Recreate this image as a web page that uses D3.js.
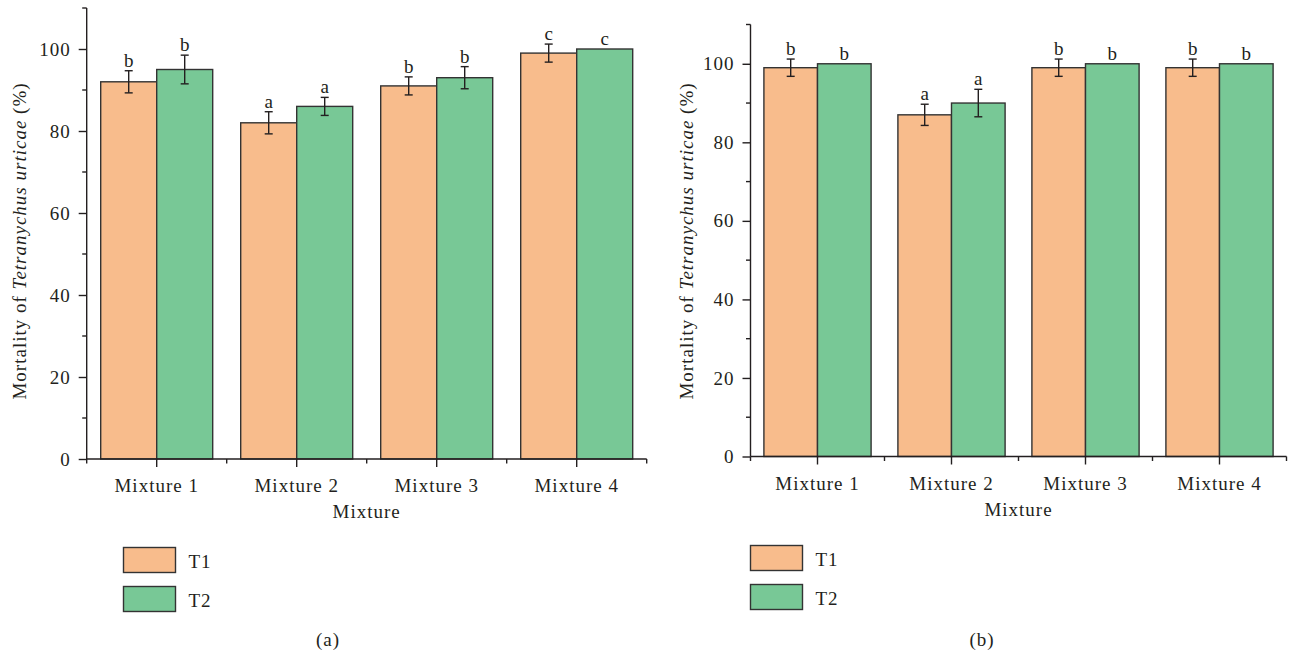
<!doctype html>
<html lang="en">
<head>
<meta charset="UTF-8">
<title>Mortality of Tetranychus urticae</title>
<style>
  body { margin: 0; background: #fff; }
  .bar { stroke: #333; stroke-width: 1.4; }
  .axis path, .axis line { stroke: #231f20; stroke-width: 1.4; }
</style>
</head>
<body>
<svg id="chart" width="1293" height="656"></svg>
<script src="https://d3js.org/d3.v7.min.js"></script>
<script>
// categories and series
var categories = ["Mixture 1", "Mixture 2", "Mixture 3", "Mixture 4"];
var seriesNames = ["T1", "T2"];
var colors = ["#f8bc8c", "#78c896"];

// panel (a)
var aT1 = [92, 82, 91, 99];
var aT2 = [95, 86, 93, 100];
var aT1Err = [2.7, 2.7, 2.2, 2.2];
var aT2Err = [3.5, 2.2, 2.7, 0];
var aT1Letters = ["b", "a", "b", "c"];
var aT2Letters = ["b", "a", "b", "c"];

// panel (b)
var bT1 = [99, 87, 99, 99];
var bT2 = [100, 90, 100, 100];
var bT1Err = [2.2, 2.7, 2.2, 2.2];
var bT2Err = [0, 3.5, 0, 0];
var bT1Letters = ["b", "a", "b", "b"];
var bT2Letters = ["b", "a", "b", "b"];

var yMajorTicks = [0, 20, 40, 60, 80, 100];
var yMinorTicks = [10, 30, 50, 70, 90, 110];

var FONT = "'Liberation Serif', 'Times New Roman', 'DejaVu Serif', serif";
var FS = "19px";

var svg = d3.select("#chart");

function styleText(sel) {
  sel.attr("font-family", FONT).style("font-family", FONT)
    .style("font-size", FS).style("letter-spacing", "1px").attr("fill", "#231f20");
  return sel;
}

function drawPanel(p) {
  var g = svg.append("g");

  var x = d3.scaleBand().domain(categories).range([p.left, p.right])
    .paddingInner(0.2).paddingOuter(0.1);
  var xs = d3.scaleBand().domain(seriesNames).range([0, x.bandwidth()]);
  var y = d3.scaleLinear().domain([0, 110]).range([p.bottom, p.top]);

  var rows = [];
  categories.forEach(function(c, i) {
    rows.push({cat: c, s: 0, v: p.t1[i], e: p.t1e[i], l: p.t1l[i]});
    rows.push({cat: c, s: 1, v: p.t2[i], e: p.t2e[i], l: p.t2l[i]});
  });

  // bars
  g.selectAll("rect.bar").data(rows).enter().append("rect")
    .attr("class", "bar")
    .attr("x", function(d) { return x(d.cat) + xs(seriesNames[d.s]); })
    .attr("y", function(d) { return y(d.v); })
    .attr("width", xs.bandwidth())
    .attr("height", function(d) { return y(0) - y(d.v); })
    .attr("fill", function(d) { return colors[d.s]; });

  // error bars
  var cx = function(d) { return x(d.cat) + xs(seriesNames[d.s]) + xs.bandwidth() / 2; };
  var eb = g.selectAll("g.err").data(rows.filter(function(d) { return d.e > 0; }))
    .enter().append("g").attr("stroke", "#231f20").attr("stroke-width", 1.4);
  eb.append("line")
    .attr("x1", cx).attr("x2", cx)
    .attr("y1", function(d) { return y(d.v + d.e); })
    .attr("y2", function(d) { return y(d.v - d.e); });
  [1, -1].forEach(function(sgn) {
    eb.append("line")
      .attr("x1", function(d) { return cx(d) - 4; })
      .attr("x2", function(d) { return cx(d) + 4; })
      .attr("y1", function(d) { return y(d.v + sgn * d.e); })
      .attr("y2", function(d) { return y(d.v + sgn * d.e); });
  });

  // letters
  g.selectAll("text.letter").data(rows).enter().append("text")
    .attr("x", cx)
    .attr("y", function(d) { return y(d.v + d.e) - 4; })
    .attr("text-anchor", "middle")
    .call(styleText).style("letter-spacing", "0px")
    .text(function(d) { return d.l; });

  // y axis
  var yAxis = g.append("g").attr("class", "axis")
    .attr("transform", "translate(" + p.left + ",0)")
    .call(d3.axisLeft(y).tickValues(yMajorTicks).tickSize(8).tickSizeOuter(0));
  yAxis.append("g").selectAll("line").data(yMinorTicks).enter().append("line")
    .attr("x1", -4.5).attr("x2", 0)
    .attr("y1", function(d) { return y(d); }).attr("y2", function(d) { return y(d); });
  yAxis.selectAll(".tick text").call(styleText).attr("x", -16);
  yAxis.select(".domain").attr("d", "M0," + y(110) + "V" + y(0));

  // x axis
  var xAxis = g.append("g").attr("class", "axis")
    .attr("transform", "translate(0," + p.bottom + ")")
    .call(d3.axisBottom(x).tickSize(8).tickSizeOuter(0));
  var minor = [p.left].concat(categories.map(function(c) { return x(c) + x.bandwidth() + x.step() * 0.1; }));
  xAxis.append("g").selectAll("line").data(minor).enter().append("line")
    .attr("x1", function(d) { return d; }).attr("x2", function(d) { return d; })
    .attr("y1", 0).attr("y2", 4.5);
  xAxis.selectAll(".tick text").call(styleText).attr("y", 20);
  xAxis.select(".domain").attr("d", "M" + p.left + ",0H" + p.right);

  // axis titles
  g.append("text")
    .attr("x", (p.left + p.right) / 2).attr("y", p.bottom + 59)
    .attr("text-anchor", "middle").call(styleText)
    .text("Mixture");
  var yl = g.append("text")
    .attr("transform", "translate(" + p.ylabelX + "," + 241 + ") rotate(-90)")
    .attr("text-anchor", "middle").call(styleText);
  yl.append("tspan").text("Mortality of ");
  yl.append("tspan").style("font-style", "italic").text("Tetranychus urticae");
  yl.append("tspan").text(" (%)");

  // legend
  var lg = g.append("g").attr("transform", "translate(" + p.legendX + "," + p.legendY + ")");
  seriesNames.forEach(function(s, i) {
    lg.append("rect").attr("class", "bar")
      .attr("x", 0).attr("y", i * 39).attr("width", 52).attr("height", 25)
      .attr("fill", colors[i]);
    lg.append("text").attr("x", 65).attr("y", i * 39 + 20)
      .call(styleText).text(s);
  });

  // panel label
  g.append("text").attr("x", p.tagX).attr("y", 646)
    .attr("text-anchor", "middle").call(styleText).text(p.tag);
}

drawPanel({
  left: 86.7, right: 646.7, top: 8, bottom: 459,
  t1: aT1, t2: aT2, t1e: aT1Err, t2e: aT2Err, t1l: aT1Letters, t2l: aT2Letters,
  ylabelX: 26, legendX: 123.5, legendY: 547.5, tagX: 328, tag: "(a)"
});

drawPanel({
  left: 750.5, right: 1286.5, top: 24.5, bottom: 456.5,
  t1: bT1, t2: bT2, t1e: bT1Err, t2e: bT2Err, t1l: bT1Letters, t2l: bT2Letters,
  ylabelX: 693, legendX: 750.5, legendY: 545.5, tagX: 982, tag: "(b)"
});
</script>
</body>
</html>
